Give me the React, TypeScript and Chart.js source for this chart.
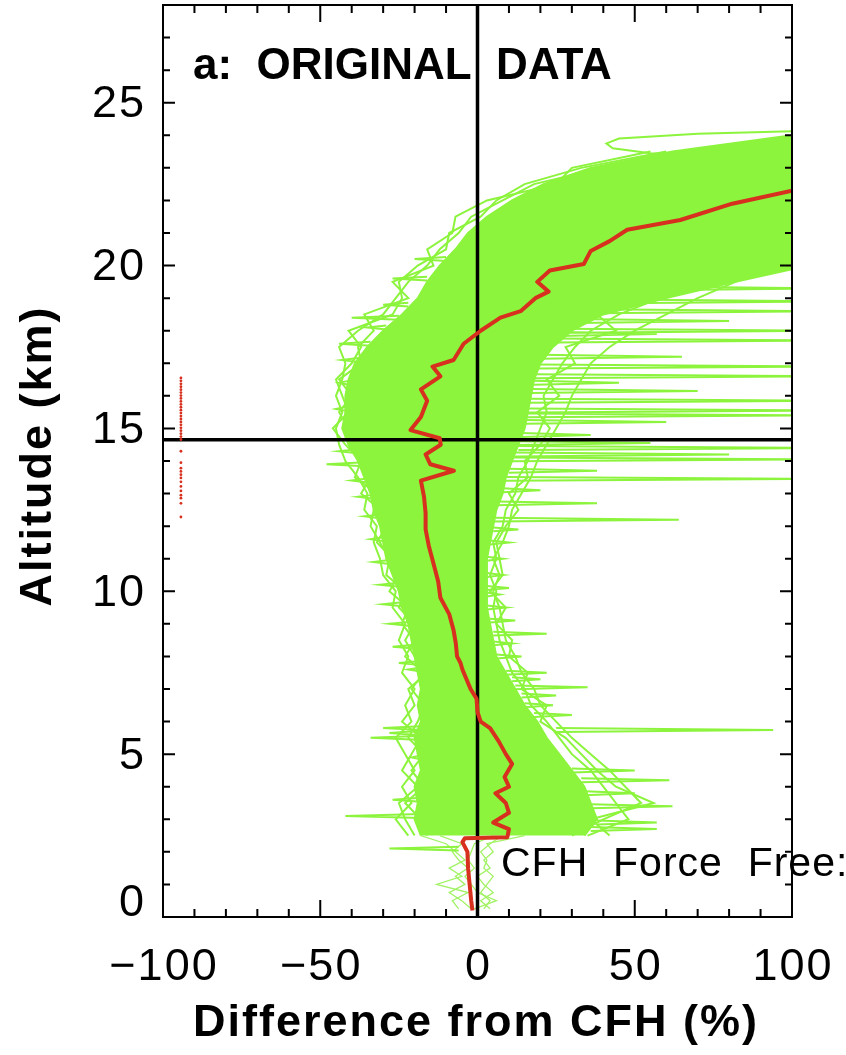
import React, { useEffect, useRef } from 'react';
import { Chart, registerables } from 'chart.js';

Chart.register(...registerables);

// ---- axis ticks / labels ----
const xTickValues = [-100, -50, 0, 50, 100];
const xTickLabels = ['\u2212100', '\u221250', '0', '50', '100'];
const yTickValues = [0, 5, 10, 15, 20, 25];
const yTickLabels = ['0', '5', '10', '15', '20', '25'];
const tropopauseAlt = 14.65;

// ---- mean difference profile (red) ----
const meanAlt = [0.2, 0.5, 1.0, 1.5, 2.0, 2.3, 2.42, 2.45, 2.7, 2.9, 3.2, 3.5, 3.8, 4.0, 4.3, 4.7, 5.0, 5.4, 5.8, 6.0, 6.3, 6.7, 7.0, 7.3, 7.6, 7.8, 8.0, 8.4, 8.8, 9.3, 9.8, 10.3, 10.85, 11.4, 11.9, 12.4, 12.9, 13.4, 13.7, 13.9, 14.2, 14.5, 14.7, 14.95, 15.35, 15.85, 16.2, 16.6, 16.9, 17.1, 17.6, 18.0, 18.4, 18.6, 19.0, 19.2, 19.5, 19.85, 20.05, 20.45, 20.75, 21.1, 21.4, 21.9, 22.3];
const meanDiff = [-1.6, -2, -2.5, -3, -3.2, -4.8, -4, 9.5, 10, 5, 10, 9, 5.7, 10, 8.6, 11, 9, 6.7, 4, 1, 0, -0.3, -2.2, -3.5, -4.8, -5.4, -6.5, -6.9, -7.6, -9, -11.8, -12.5, -14, -15.5, -16.5, -16.5, -17, -18, -7.5, -15, -16.5, -11.7, -12, -21.3, -18, -16, -18, -11.8, -14.3, -7.6, -4.4, 1, 7.3, 13.7, 18.4, 22.6, 19, 23, 33.8, 36, 42, 47.6, 64.5, 81, 100];

// ---- dense envelope of individual profiles (green) ----
const coreAlt = [2.5, 3, 3.5, 4, 4.5, 5, 5.5, 6, 6.5, 7, 7.5, 8, 8.5, 9, 9.5, 10, 10.5, 11, 11.5, 12, 12.5, 13, 13.5, 14, 14.5, 15, 15.5, 16, 16.5, 17, 17.5, 18, 18.5, 19, 19.5, 20, 20.5, 21, 21.5, 22, 22.5, 23, 23.5, 24];
const coreLeft = [-18, -20, -19, -20, -18, -19, -20, -18, -19, -18, -19, -20, -21, -22, -24, -25, -27, -29, -30, -31, -33, -34, -36, -38, -41, -43, -42, -42, -41, -39, -35, -30, -24, -19, -16, -12, -7, -3, 3, 11, 21, 36, 62, 100];
const coreRight = [34, 38, 36, 34, 30, 26, 22, 19, 15, 12, 9, 6, 5, 4, 3, 3, 3, 3, 4, 5, 6, 8, 9, 11, 13, 15, 16, 17, 18, 20, 24, 30, 40, 60, 82, 105, 110, 110, 110, 110, 110, 110, 110, 110];

// ---- individual edge profiles (green) ----
const profAlt = [2.5, 3, 3.5, 4, 4.5, 5, 5.5, 6, 6.5, 7, 7.5, 8, 8.5, 9, 9.5, 10, 10.5, 11, 11.5, 12, 12.5, 13, 13.5, 14, 14.5, 15, 15.5, 16, 16.5, 17, 17.5, 18, 18.5, 19, 19.5, 20, 20.5, 21, 21.5, 22, 22.5, 23, 23.5];
const profileA = [-22, -26, -21, -24, -20, -23, -26, -21, -23, -20, -24, -22, -25, -23, -27, -26, -30, -31, -33, -32, -36, -35, -38, -42, -44, -45, -43, -45, -43, -42, -44, -38, -30, -26, -22, -16, -12, -6, -2, 8, 18, 40, 75];
const profileB = [-16, -18, -23, -17, -21, -17, -22, -19, -17, -21, -17, -23, -20, -24, -22, -28, -25, -27, -32, -29, -31, -37, -34, -36, -39, -41, -44, -40, -44, -37, -38, -33, -36, -22, -27, -14, -16, -8, -7, 3, 25, 30, 55];
const profileC = [35, 48, 44, 40, 36, 30, 26, 22, 17, 15, 11, 9, 7, 6, 5, 6, 4, 6, 5, 8, 9, 12, 13, 16, 18, 20, 22, 21, 24, 27, 31, 36, 45, 58, 72, 90, 110, 110, 110, 110, 110, 110, 110];
const profileD = [30, 40, 52, 47, 42, 36, 30, 25, 20, 18, 14, 12, 9, 8, 7, 5, 7, 5, 8, 10, 11, 14, 17, 19, 22, 25, 28, 30, 33, 36, 42, 50, 60, 70, 82, 95, 110, 110, 110, 110, 110, 110, 110];
const profileE = [-20, -23, -25, -19, -24, -21, -18, -24, -20, -22, -16, -20, -23, -20, -25, -23, -29, -28, -31, -34, -33, -32, -39, -37, -42, -46, -41, -43, -45, -40, -37, -41, -27, -24, -25, -19, -10, -9, 1, 6, 15, 33, 60];
const profileF = [42, 36, 56, 44, 38, 33, 28, 20, 22, 14, 16, 10, 11, 6, 9, 4, 8, 7, 6, 9, 13, 10, 16, 15, 20, 23, 19, 26, 22, 31, 28, 44, 38, 52, 66, 78, 100, 110, 110, 110, 110, 110, 110];

// top outlier profile
const topAlt = [24.15, 24.05, 23.9, 23.75, 23.6, 23.45, 23.35, 23.3];
const topDiff = [110, 70, 45, 41, 43, 55, 75, 110];

// ---- lowest layer (thin lines) ----
const groundAlt = [0.25, 0.5, 0.75, 1.0, 1.25, 1.5, 1.75, 2.0, 2.25, 2.5];
const groundA = [-2, -5, -9, -4, -7, -3, -6, -8, -5, -12];
const groundB = [2, 4, 1, 3, 5, 2, 3, 1, 4, 8];
const groundC = [-6, -8, -3, -13, -5, -9, -4, -7, -10, -18];
const groundD = [4, 1, 5, 2, 0, 4, 2, 5, 3, 15];
const groundE = [-1, 6, 0, -2, -4, -1, -3, -2, -1, 5];

// ---- narrow excursions: [altitude, base difference, peak difference] ----
const spikes: number[][] = [
  [2.1, -6, -28], [3.1, -18, -42], [3.6, -18, -27], [4.9, -18, -21], [5.5, -19, -34],
  [5.65, -19, -28], [5.8, -18, -30], [7.6, -18, -22], [7.8, -18, -25], [8.3, -20, -27],
  [9.0, -22, -28], [9.6, -24, -30], [10.2, -25, -31], [10.9, -28, -33], [11.6, -30, -34],
  [12.3, -31, -36], [12.9, -33, -38], [13.4, -35, -40], [13.9, -36, -48], [14.3, -38, -44],
  [15.6, -42, -45], [16.4, -41, -44], [17.1, -38, -43], [17.6, -34, -44], [18.1, -29, -35],
  [18.4, -25, -40], [18.8, -22, -30], [19.6, -16, -27], [20.2, -10, -20],
  [2.7, 36, 57], [2.9, 38, 57], [3.4, 36, 62], [3.8, 34, 50], [4.2, 33, 61], [4.5, 30, 50],
  [5.74, 25, 94], [6.2, 18, 30], [6.5, 15, 24], [6.8, 14, 25], [7.05, 12, 35], [7.3, 11, 20],
  [7.5, 9, 22], [8.0, 6, 14], [8.4, 5, 11], [8.7, 5, 22], [9.1, 4, 12], [9.5, 3, 9],
  [9.9, 3, 7], [10.1, 3, 10], [10.5, 3, 8], [11.0, 3, 8], [11.5, 4, 10], [11.9, 5, 13],
  [12.2, 5, 64], [12.7, 6, 38], [13.1, 8, 20], [13.45, 9, 110], [13.7, 10, 38], [14.05, 11, 110],
  [14.2, 12, 80], [14.4, 13, 110], [14.55, 13, 55], [14.8, 14, 36], [15.2, 15, 60], [15.4, 15, 110],
  [15.55, 16, 110], [15.85, 16, 110], [16.15, 17, 70], [16.4, 18, 45], [16.6, 18, 110],
  [16.9, 19, 110], [17.2, 20, 65], [17.7, 24, 110], [17.9, 26, 57], [18.0, 28, 110],
  [18.3, 32, 80], [18.6, 38, 110], [18.9, 45, 110], [19.3, 55, 110],
];

// ---- red dotted marker column ----
const dotDiff = -94.3;
const dotAlt = [16.55, 16.46, 16.37, 16.28, 16.19, 16.1, 16.01, 15.92, 15.83, 15.74, 15.65, 15.56, 15.47, 15.38, 15.29, 15.2, 15.11, 15.02, 14.93, 14.84, 14.75, 14.66, 14.3, 13.95, 13.78, 13.68, 13.58, 13.48, 13.36, 13.22, 13.08, 12.95, 12.86, 12.7, 12.28];

const GREEN = '#8cf43c';
const GREEN_THIN = '#a2f266';
const RED = '#d7301f';

const pts = (xs: (number | null)[], ys: number[]) => ys.map((y, i) => ({ x: xs[i], y }));

const framePlugin = {
  id: 'frameAndText',
  afterDatasetsDraw(chart: any) {
    const { ctx, chartArea: a, scales } = chart;
    const xs = scales.x;
    const ys = scales.y;
    ctx.save();
    ctx.strokeStyle = '#000';
    ctx.lineWidth = 2;
    ctx.strokeRect(a.left, a.top, a.right - a.left, a.bottom - a.top);
    ctx.beginPath();
    for (let v = -100; v <= 100; v += 10) {
      const px = xs.getPixelForValue(v);
      const len = v % 50 === 0 ? 17 : 8;
      ctx.moveTo(px, a.bottom);
      ctx.lineTo(px, a.bottom - len);
      ctx.moveTo(px, a.top);
      ctx.lineTo(px, a.top + len);
    }
    for (let v = 0; v <= 28; v += 1) {
      const py = ys.getPixelForValue(v);
      const len = v % 5 === 0 ? 12 : 7;
      ctx.moveTo(a.left, py);
      ctx.lineTo(a.left + len, py);
      ctx.moveTo(a.right, py);
      ctx.lineTo(a.right - len, py);
    }
    ctx.stroke();

    ctx.fillStyle = '#000';
    ctx.font = '45px "Liberation Sans", Arial, sans-serif';
    (ctx as any).letterSpacing = '2px';
    ctx.textAlign = 'center';
    ctx.textBaseline = 'middle';
    xTickValues.forEach((v, i) => {
      ctx.fillText(xTickLabels[i], xs.getPixelForValue(v) + 1, a.bottom + 51);
    });
    ctx.textAlign = 'right';
    yTickValues.forEach((v, i) => {
      const py = ys.getPixelForValue(v) + (v === 0 ? -13 : 2);
      ctx.fillText(yTickLabels[i], a.left - 17, py);
    });

    // axis titles
    ctx.font = 'bold 45px "Liberation Sans", Arial, sans-serif';
    (ctx as any).letterSpacing = '2px';
    ctx.textAlign = 'center';
    ctx.fillText('Difference from CFH (%)', 476, 1024);
    ctx.save();
    ctx.translate(39, 456);
    ctx.rotate(-Math.PI / 2);
    ctx.fillText('Altitude (km)', 0, 0);
    ctx.restore();

    // annotations
    ctx.font = 'bold 44px "Liberation Sans", Arial, sans-serif';
    (ctx as any).letterSpacing = '0px';
    ctx.textAlign = 'left';
    ctx.fillText('a:  ORIGINAL  DATA', 193, 67);
    ctx.font = '41px "Liberation Sans", Arial, sans-serif';
    (ctx as any).letterSpacing = '1px';
    ctx.fillText('CFH  Force  Free:', 501, 865);
    ctx.restore();
  },
};

export default function App() {
  const ref = useRef<HTMLCanvasElement>(null);
  useEffect(() => {
    const canvas = ref.current;
    if (!canvas) return;

    const spikeData: any[] = [];
    spikes.forEach(([alt, base, peak]) => {
      spikeData.push({ x: base, y: alt - 0.06 }, { x: peak, y: alt }, { x: base, y: alt + 0.06 }, { x: null, y: null });
    });

    const coreShape = [
      ...pts(coreLeft, coreAlt),
      ...pts(coreRight, coreAlt).reverse(),
    ];

    const greenLine = (data: any[], width = 2, color = GREEN, order = 8) => ({
      type: 'scatter' as const,
      data,
      showLine: true,
      borderColor: color,
      borderWidth: width,
      pointRadius: 0,
      fill: false,
      spanGaps: false,
      order,
    });

    const datasets: any[] = [
      {
        type: 'scatter',
        data: coreShape,
        showLine: true,
        borderColor: GREEN,
        backgroundColor: GREEN,
        borderWidth: 2,
        pointRadius: 0,
        fill: 'shape',
        order: 10,
      },
      greenLine(pts(profileA, profAlt)),
      greenLine(pts(profileB, profAlt)),
      greenLine(pts(profileC, profAlt)),
      greenLine(pts(profileD, profAlt)),
      greenLine(pts(profileE, profAlt)),
      greenLine(pts(profileF, profAlt)),
      greenLine(pts(topDiff, topAlt)),
      greenLine(spikeData, 2, GREEN, 7),
      greenLine(pts(groundA, groundAlt), 1.3, GREEN_THIN),
      greenLine(pts(groundB, groundAlt), 1.3, GREEN_THIN),
      greenLine(pts(groundC, groundAlt), 1.3, GREEN_THIN),
      greenLine(pts(groundD, groundAlt), 1.3, GREEN_THIN),
      greenLine(pts(groundE, groundAlt), 1.3, GREEN_THIN),
      {
        type: 'scatter',
        data: [{ x: 0, y: 0 }, { x: 0, y: 28 }],
        showLine: true,
        borderColor: '#000',
        borderWidth: 3.5,
        pointRadius: 0,
        order: 2,
      },
      {
        type: 'scatter',
        data: [{ x: -100, y: tropopauseAlt }, { x: 100, y: tropopauseAlt }],
        showLine: true,
        borderColor: '#000',
        borderWidth: 3.5,
        pointRadius: 0,
        order: 2,
      },
      {
        type: 'scatter',
        data: pts(meanDiff, meanAlt),
        showLine: true,
        borderColor: RED,
        borderWidth: 4,
        pointRadius: 0,
        borderJoinStyle: 'round',
        order: 1,
      },
      {
        type: 'scatter',
        data: dotAlt.map((y) => ({ x: dotDiff, y })),
        showLine: false,
        pointRadius: 1.4,
        pointBorderWidth: 0,
        pointBackgroundColor: RED,
        order: 1,
      },
    ];

    const chart = new Chart(canvas, {
      type: 'scatter',
      data: { datasets },
      options: {
        animation: false,
        responsive: false,
        devicePixelRatio: 1,
        layout: { padding: { left: 163, right: 54, top: 5, bottom: 138 } },
        scales: {
          x: { type: 'linear', min: -100, max: 100, display: false },
          y: { type: 'linear', min: 0, max: 28, display: false },
        },
        plugins: {
          legend: { display: false },
          tooltip: { enabled: false },
        },
      },
      plugins: [framePlugin],
    } as any);
    return () => chart.destroy();
  }, []);

  return (
    <div style={{ position: 'absolute', left: 0, top: 0, width: 846, height: 1055, background: '#fff', overflow: 'hidden' }}>
      <canvas ref={ref} width={846} height={1055} style={{ display: 'block' }} />
    </div>
  );
}
